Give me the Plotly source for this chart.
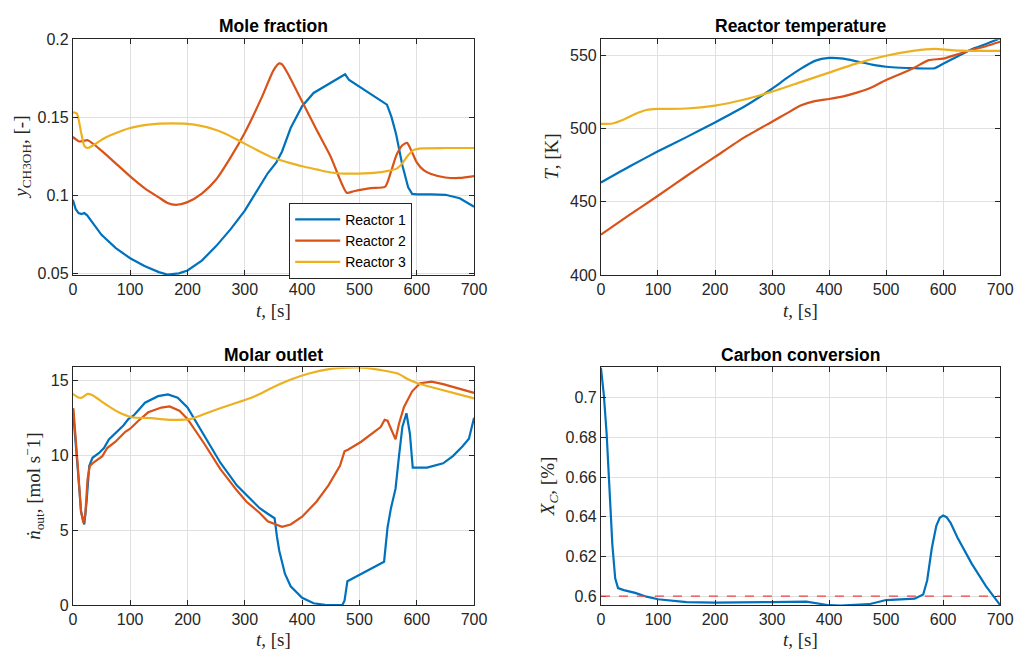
import plotly.graph_objects as go

C1, C2, C3 = "#0072BD", "#D95319", "#EDB120"
names = ["Reactor 1", "Reactor 2", "Reactor 3"]

# ---------- Panel 1: mole fraction ----------
t_y1 = [0,5,10,15,20,25,35,50,75,100,125,150,165,185,200,225,250,275,300,320,340,355,365,380,400,420,446,475,482,498,548,556,564,575,585,592,600,625,650,675,700]
y1 = [0.097,0.091,0.0885,0.0878,0.0885,0.087,0.082,0.0745,0.066,0.0595,0.0545,0.0506,0.049,0.0498,0.0517,0.058,0.0673,0.078,0.090,0.102,0.114,0.121,0.128,0.143,0.157,0.1655,0.1711,0.1775,0.1738,0.170,0.158,0.150,0.139,0.119,0.105,0.1008,0.1005,0.1005,0.1002,0.098,0.0925]
t_y2 = [0,11,26,40,50,69,100,125,150,165,180,200,225,250,275,300,330,350,360,365,375,400,425,450,478,490,520,545,555,565,575,583,590,600,612,625,650,675,700]
y2 = [0.1373,0.1344,0.1352,0.1316,0.1285,0.1223,0.112,0.1045,0.0985,0.095,0.0938,0.0955,0.101,0.110,0.124,0.140,0.163,0.180,0.1845,0.1838,0.178,0.160,0.142,0.1245,0.1015,0.1025,0.1045,0.1055,0.115,0.126,0.132,0.1335,0.129,0.121,0.116,0.1135,0.1113,0.111,0.1122]
t_y3 = [0,7,14,20,26,34,57,97,132,172,212,250,269,300,326,350,375,400,425,450,475,500,525,550,565,575,585,595,610,650,700]
y3 = [0.1531,0.1524,0.141,0.1316,0.1302,0.1316,0.1369,0.1427,0.1452,0.146,0.1452,0.1418,0.1389,0.133,0.128,0.1238,0.121,0.1185,0.1165,0.1145,0.1138,0.1138,0.1142,0.1155,0.117,0.1205,0.1255,0.129,0.130,0.1302,0.1302]

# ---------- Panel 2: reactor temperature ----------
t_T1 = [0,50,100,150,200,250,300,325,350,375,400,425,450,475,500,525,550,585,600,625,650,675,700]
T1 = [463.1,474,484.3,494,504,514.5,527,534,540.5,546,548,547.5,545.5,543.5,542,541.3,541,541,544,549,554,557.5,561.5]
t_T2 = [0,50,100,150,200,250,300,325,350,375,400,425,450,475,500,525,550,575,600,625,650,675,700]
T2 = [427.5,441,454,467.5,480.5,493.5,504.5,510,515.5,518.5,520,521.8,524.5,528,533,537,541.5,546.5,547.5,550.5,553.5,556,559]
t_T3 = [0,20,40,60,80,100,150,200,250,300,350,400,450,500,550,585,610,630,660,700]
T3 = [503,503.3,506,509.8,512.5,513.2,513.5,515.5,519.5,525,531.5,538,544.5,549.5,553,554.2,553.5,553,552.8,552.8]

# ---------- Panel 3: molar outlet ----------
t_n1 = [0,1,8.6,14.3,20,24,28.6,34.3,45.8,54.3,62.9,74.3,88.6,97.2,105.8,125.9,148.7,165.9,183,200,228.8,257.4,286,308.9,326,340,352,356,360,370,380,400,420,440,470,474,479,543,549,555,563,569,575,582,588,593,618,646,663,680,691,700]
n1 = [12.8,12.64,9.07,6.25,5.39,6.9,9.29,9.83,10.15,10.48,11.06,11.45,12.0,12.42,12.64,13.5,13.94,14.05,13.83,13.18,11.34,9.5,7.99,7.12,6.47,6.1,5.8,4.6,3.65,2.1,1.26,0.5,0.13,0.02,0.0,0.3,1.6,2.9,5.17,6.47,7.77,9.94,11.9,12.8,11.45,9.18,9.18,9.46,9.94,10.6,11.1,12.5]
t_n2 = [0,1.1,8.6,14.3,18.3,21.7,25.7,29.7,37.2,51.5,60,74.3,91.5,100,114.4,131.6,154.4,168.7,185.9,200,228.8,257.4,286,303,326,340,365,380,400,425,446,466,474,480,503,537,544,549,563,569,577.6,592,606,626,646,700]
n2 = [13.1,13.07,9.29,6.25,5.5,6.04,8.42,9.29,9.55,9.94,10.48,10.9,11.56,11.77,12.3,12.86,13.18,13.25,12.97,12.42,10.8,9.07,7.66,6.9,6.15,5.6,5.23,5.38,5.9,6.9,7.99,9.29,10.26,10.37,10.9,11.88,12.36,12.3,11.06,12.1,13.2,14.26,14.8,14.91,14.74,14.16]
t_n3 = [0,8.6,15.4,25.7,34.3,57.2,80,103,137,172,206,240,274,309,326,344,378,412,447,481,504,538,567,584,601,618,700]
n3 = [14.1,13.87,13.83,14.09,14.0,13.4,12.86,12.53,12.47,12.36,12.42,12.9,13.35,13.8,14.08,14.44,15.02,15.45,15.74,15.84,15.84,15.67,15.45,15.08,14.8,14.62,13.79]

# ---------- Panel 4: carbon conversion ----------
t_x = [0,5,10,15,20,25,30,40,60,80,100,150,200,300,350,360,400,420,470,500,550,565,572,580,588,594,600,606,613,625,650,675,700]
xc = [0.7153,0.7018,0.682,0.6525,0.626,0.609,0.604,0.603,0.6016,0.5997,0.5984,0.597,0.5967,0.597,0.597,0.5972,0.5954,0.5952,0.5959,0.598,0.5987,0.6008,0.608,0.624,0.6355,0.6395,0.6406,0.6398,0.637,0.6296,0.6164,0.605,0.5954]
xc_target = 0.6

x_ticks = [0, 100, 200, 300, 400, 500, 600, 700]
y1_ticks = [0.05, 0.1, 0.15, 0.2]
T_ticks = [400, 450, 500, 550]
n_ticks = [0, 5, 10, 15]
xc_ticks = [0.6, 0.62, 0.64, 0.66, 0.68, 0.7]

fig = go.Figure()
LW = 2.2
SP = dict(shape="spline", smoothing=0.6)
LN = dict(shape="linear")
for t, v, c, nm, s in [(t_y1, y1, C1, names[0], LN), (t_y2, y2, C2, names[1], SP), (t_y3, y3, C3, names[2], SP)]:
    fig.add_trace(go.Scatter(x=t, y=v, mode="lines", line=dict(color=c, width=LW, **s), name=nm,
                             xaxis="x", yaxis="y", showlegend=True))
for t, v, c in [(t_T1, T1, C1), (t_T2, T2, C2), (t_T3, T3, C3)]:
    fig.add_trace(go.Scatter(x=t, y=v, mode="lines", line=dict(color=c, width=LW, **SP),
                             xaxis="x2", yaxis="y2", showlegend=False))
for t, v, c, s in [(t_n1, n1, C1, LN), (t_n2, n2, C2, LN), (t_n3, n3, C3, SP)]:
    fig.add_trace(go.Scatter(x=t, y=v, mode="lines", line=dict(color=c, width=LW, **s),
                             xaxis="x3", yaxis="y3", showlegend=False))
fig.add_trace(go.Scatter(x=t_x, y=xc, mode="lines", line=dict(color=C1, width=LW),
                         xaxis="x4", yaxis="y4", showlegend=False))

fig.add_shape(type="line", xref="x4 domain", yref="y4", x0=0, x1=1, y0=xc_target, y1=xc_target,
              line=dict(color="#f04040", width=1.2, dash="dash"), layer="above")

W, H = 1025, 660
def xd(a, b): return [a / W, b / W]
def yd(top, bot): return [1 - bot / H, 1 - top / H]

tickfont = dict(family="Liberation Sans, Arial, sans-serif", size=16, color="#262626")
def xax(dom, anchor):
    return dict(domain=dom, anchor=anchor, range=[0, 700], tickvals=x_ticks,
                ticktext=[str(v) for v in x_ticks], ticks="inside", ticklen=5,
                tickcolor="#262626", showline=True, linecolor="#262626", linewidth=1,
                mirror="ticks", showgrid=True, gridcolor="#e0e0e0", gridwidth=1,
                zeroline=False, tickfont=tickfont)
def yax(dom, anchor, rng, tv, tt):
    return dict(domain=dom, anchor=anchor, range=rng, tickvals=tv, ticktext=tt,
                ticks="inside", ticklen=5, tickcolor="#262626", showline=True,
                linecolor="#262626", linewidth=1, mirror="ticks", showgrid=True,
                gridcolor="#e0e0e0", gridwidth=1, zeroline=False, tickfont=tickfont)

LX = xd(70, 478)
RX = xd(607, 1013)
TY = yd(32, 274)
BY = yd(369, 613)

fig.update_layout(
    width=W, height=H, margin=dict(l=0, r=0, t=0, b=0),
    paper_bgcolor="white", plot_bgcolor="white",
    xaxis=xax(LX, "y"),
    yaxis=yax(TY, "x", [0.0488, 0.2], y1_ticks, ["0.05", "0.1", "0.15", "0.2"]),
    xaxis2=xax(RX, "y2"),
    yaxis2=yax(TY, "x2", [400, 560.8], T_ticks, [str(v) for v in T_ticks]),
    xaxis3=xax(LX, "y3"),
    yaxis3=yax(BY, "x3", [0, 15.85], n_ticks, [str(v) for v in n_ticks]),
    xaxis4=xax(RX, "y4"),
    yaxis4=yax(BY, "x4", [0.5954, 0.7153], xc_ticks, ["0.6", "0.62", "0.64", "0.66", "0.68", "0.7"]),
    legend=dict(x=290 / W, y=1 - 200 / H, xanchor="left", yanchor="top",
                bgcolor="white", bordercolor="#262626", borderwidth=1,
                font=dict(family="Liberation Sans, Arial, sans-serif", size=14, color="#000"),
                itemwidth=45, tracegroupgap=0),
    showlegend=True,
)

titlefont = dict(family="Liberation Sans, Arial, sans-serif", size=17.5, color="#000")
labfont = dict(family="Liberation Serif, Times New Roman, serif", size=19, color="#262626")
titles = [("Mole fraction", 274, 18), ("Reactor temperature", 810, 18),
          ("Molar outlet", 274, 356), ("Carbon conversion", 810, 356)]
for txt, cx, cy in titles:
    fig.add_annotation(text="<b>" + txt + "</b>", x=cx / W, y=1 - cy / H, xref="paper", yref="paper",
                       showarrow=False, font=titlefont, xanchor="center", yanchor="middle")
for cx, cy in [(274, 311), (810, 311), (274, 648), (810, 648)]:
    fig.add_annotation(text="<i>t</i>, [s]", x=cx / W, y=1 - cy / H, xref="paper", yref="paper",
                       showarrow=False, font=labfont, xanchor="center", yanchor="middle")
ylabels = [("<i>y</i><sub>CH3OH</sub>, [-]", 18, 153), ("<i>T</i>, [K]", 556, 153),
           ("<i>ṅ</i><sub>out</sub>, [mol s<sup>−</sup>1]", 30, 491), ("<i>X</i><sub><i>C</i></sub>, [%]", 555, 491)]
for txt, cx, cy in ylabels:
    fig.add_annotation(text=txt, x=cx / W, y=1 - cy / H, xref="paper", yref="paper",
                       showarrow=False, font=labfont, textangle=-90, xanchor="center", yanchor="middle")

fig.write_html("out.html")
